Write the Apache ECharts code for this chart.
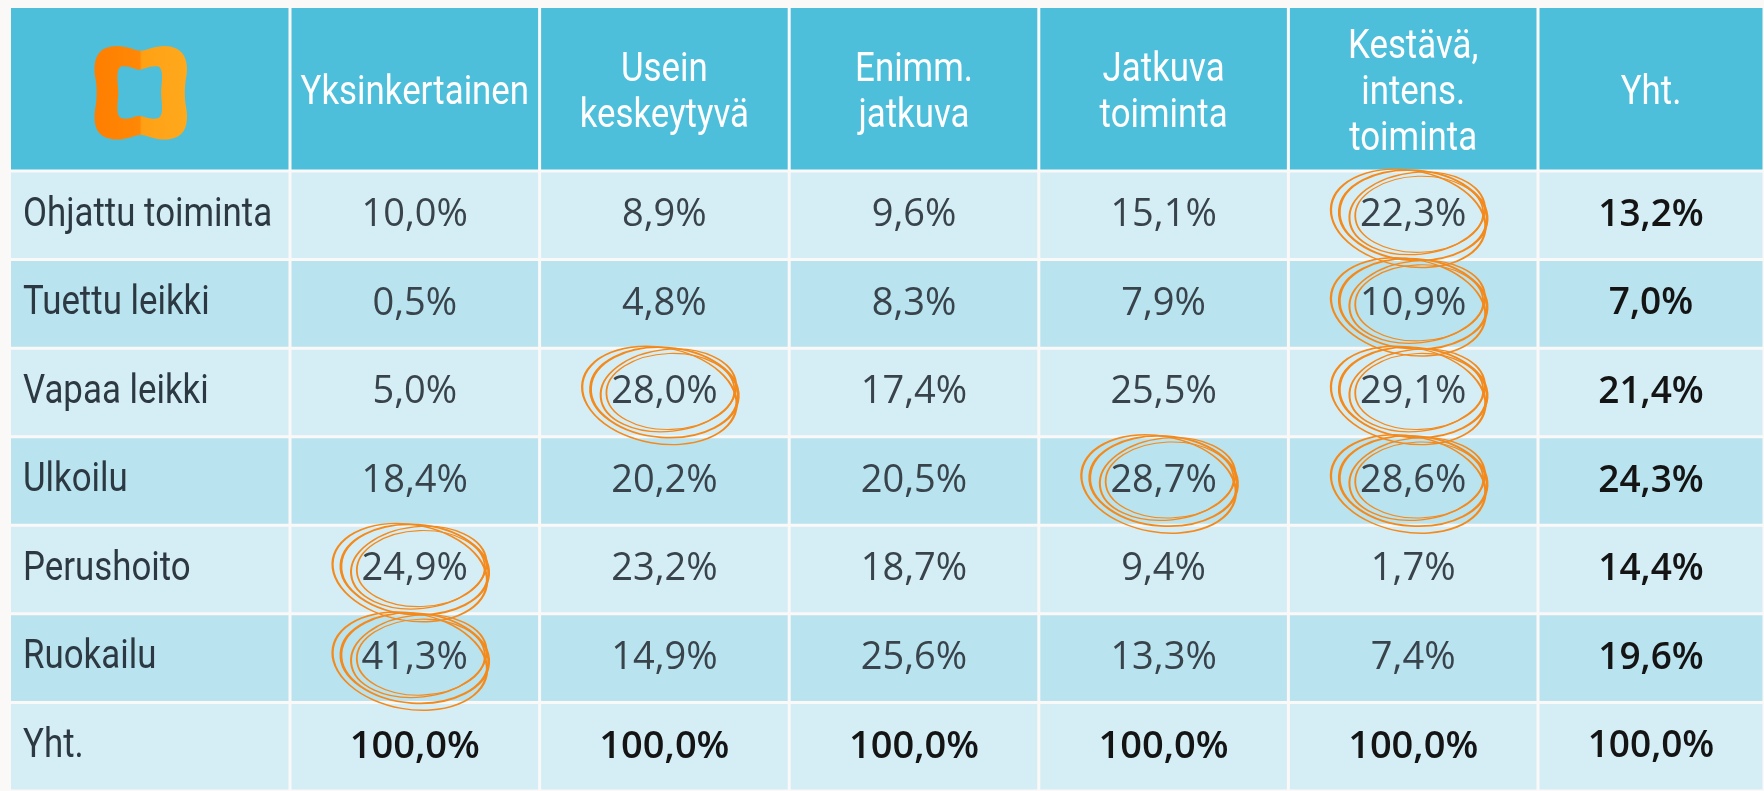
<!DOCTYPE html>
<html>
<head>
<meta charset="utf-8">
<script src="https://cdn.jsdelivr.net/npm/echarts@6/dist/echarts.min.js"></script>
<style>
html,body{margin:0;padding:0;background:#fbf8f8;}
#chart{width:1764px;height:791px;}
</style>
</head>
<body>
<div id="chart"></div>
<script>
// ---------- DATA ----------
const rowLabels = ['Ohjattu toiminta', 'Tuettu leikki', 'Vapaa leikki', 'Ulkoilu', 'Perushoito', 'Ruokailu', 'Yht.'];
const colLabels = ['Yksinkertainen', 'Usein\nkeskeytyvä', 'Enimm.\njatkuva', 'Jatkuva\ntoiminta', 'Kestävä,\nintens.\ntoiminta'];
const totalColLabel = 'Yht.';
const yksinkertainen  = [10.0, 0.5, 5.0, 18.4, 24.9, 41.3, 100.0];
const useinKeskeytyva = [8.9, 4.8, 28.0, 20.2, 23.2, 14.9, 100.0];
const enimmJatkuva    = [9.6, 8.3, 17.4, 20.5, 18.7, 25.6, 100.0];
const jatkuvaToiminta = [15.1, 7.9, 25.5, 28.7, 9.4, 13.3, 100.0];
const kestavaToiminta = [22.3, 10.9, 29.1, 28.6, 1.7, 7.4, 100.0];
const yhteensa        = [13.2, 7.0, 21.4, 24.3, 14.4, 19.6, 100.0];
// circled cells: [rowIndex, columnIndex]
const circledCells = [[0, 4], [1, 4], [2, 1], [2, 4], [3, 3], [3, 4], [4, 0], [5, 0]];

// ---------- STYLE ----------
const HEADER = '#4ebfdb';
const LIGHT = '#d5eef5';
const DARK = '#b9e3ee';
const COND = "Roboto,'Noto Sans',sans-serif";
const NUM = "'Open Sans','Noto Sans',sans-serif";
const COND_SCALE = 0.85;
const fmt = v => v.toFixed(1).replace('.', ',') + '%';
const rowFill = r => (r % 2 === 0 ? LIGHT : DARK);
const columns = [yksinkertainen, useinKeskeytyva, enimmJatkuva, jatkuvaToiminta, kestavaToiminta];
const lastRow = rowLabels.length - 1;

function cellSeries(gridIndex, cells) {
  return {
    type: 'custom', xAxisIndex: gridIndex, yAxisIndex: gridIndex, z: 1,
    data: cells.map(c => [c.x, c.y]),
    silent: true,
    renderItem: function (params, api) {
      const cell = cells[params.dataIndex];
      const c = api.coord([api.value(0), api.value(1)]);
      const s = api.size([1, 1]);
      const x0 = c[0] - s[0] / 2 + 1.5, y0 = c[1] - s[1] / 2 + 1.5;
      const children = [{ type: 'rect', shape: { x: x0, y: y0, width: s[0] - 3, height: s[1] - 3 }, style: { fill: cell.fill } }];
      if (cell.text) {
        children.push({
          type: 'text',
          x: cell.align === 'left' ? x0 + 12 : c[0],
          y: c[1] + (cell.dy || 0),
          scaleX: cell.scaleX || 1,
          style: {
            text: cell.text,
            x: 0, y: 0,
            align: cell.align || 'center',
            verticalAlign: 'middle',
            fontSize: cell.size, fontFamily: cell.family, fontWeight: cell.weight || 'normal',
            lineHeight: cell.lineHeight || cell.size * 1.2,
            fill: cell.color
          }
        });
      }
      return { type: 'group', children: children };
    }
  };
}

// header cells
const headLabelCells = [{ x: 0, y: 0, fill: HEADER }];
const headMidCells = colLabels.map((t, i) => ({ x: i, y: 0, fill: HEADER, text: t, size: 41, family: COND, color: '#ffffff', lineHeight: 46, scaleX: COND_SCALE, dy: 5 }));
const headLastCells = [{ x: 0, y: 0, fill: HEADER, text: totalColLabel, size: 41, family: COND, color: '#ffffff', scaleX: COND_SCALE, dy: 5 }];
// body cells
const bodyLabelCells = rowLabels.map((t, r) => ({ x: 0, y: r, fill: rowFill(r), text: t, size: 41, family: COND, color: '#2d3942', align: 'left', scaleX: COND_SCALE }));
const bodyMidCells = [];
columns.forEach((col, ci) => col.forEach((v, r) => bodyMidCells.push({
  x: ci, y: r, fill: rowFill(r), text: fmt(v), size: 38, family: NUM,
  color: r === lastRow ? '#141414' : '#39434b', weight: r === lastRow ? 600 : 'normal'
})));
const bodyLastCells = yhteensa.map((v, r) => ({ x: 0, y: r, fill: rowFill(r), text: fmt(v), size: 37, family: NUM, color: '#141414', weight: 600 }));

// ellipse scribbles
const strokes = [
  { size: [148, 90], offset: [0, 0], rotate: -4, width: 2.2 },
  { size: [136, 82], offset: [4, -2], rotate: 6, width: 1.6 },
  { size: [156, 96], offset: [-5, 3], rotate: -10, width: 1.8 },
  { size: [128, 76], offset: [6, -1], rotate: 2, width: 1.4 }
];
const scribbleData = [];
circledCells.forEach(([r, c]) => strokes.forEach(st => scribbleData.push({
  value: [c, r], symbolSize: st.size, symbolOffset: st.offset, symbolRotate: st.rotate,
  itemStyle: { color: 'rgba(0,0,0,0)', borderColor: '#f48a1c', borderWidth: st.width, opacity: 1 }
})));

const outerPath = 'path://M0 0M100 100M20 4C32 1 42 7 50 8C58 7 68 1 80 4C96 8 97 24 94 38C93 45 93 55 94 62C97 77 96 93 80 96C68 99 58 93 50 92C42 93 32 99 20 96C4 93 3 77 6 62C7 55 7 45 6 38C3 24 4 7 20 4Z';
const innerPath = 'path://M0 0M100 100M30 24C38 22 44 27 48 27C53 27 60 22 68 24C73 28 70 42 70 50C70 58 73 71 68 75C60 78 53 73 48 73C44 73 38 78 30 75C25 71 28 58 28 50C28 42 25 28 30 24Z';

// ---------- LAYOUT ----------
const colEdges = { labelLeft: 9.5, mid: 290, last: 1538, right: 1766 };
const headTop = 6.5, bodyTop = 171, bodyH = 626;
const grids = [
  { left: colEdges.labelLeft, top: headTop, width: colEdges.mid - colEdges.labelLeft, height: bodyTop - headTop },
  { left: colEdges.mid, top: headTop, width: colEdges.last - colEdges.mid, height: bodyTop - headTop },
  { left: colEdges.last, top: headTop, width: colEdges.right - colEdges.last, height: bodyTop - headTop },
  { left: colEdges.labelLeft, top: bodyTop, width: colEdges.mid - colEdges.labelLeft, height: bodyH },
  { left: colEdges.mid, top: bodyTop, width: colEdges.last - colEdges.mid, height: bodyH },
  { left: colEdges.last, top: bodyTop, width: colEdges.right - colEdges.last, height: bodyH }
];
const xCats = [[''], colLabels, [totalColLabel], [''], colLabels, [totalColLabel]];
const yCats = [[''], [''], [''], rowLabels, rowLabels, rowLabels];

const chart = echarts.init(document.getElementById('chart'), null, { renderer: 'canvas' });
chart.setOption({
  animation: false,
  backgroundColor: '#fbf8f8',
  grid: grids.map(g => Object.assign({ containLabel: false }, g)),
  xAxis: xCats.map((d, i) => ({ type: 'category', gridIndex: i, data: d, show: false, boundaryGap: true })),
  yAxis: yCats.map((d, i) => ({ type: 'category', gridIndex: i, data: d, show: false, inverse: true, boundaryGap: true })),
  series: [
    cellSeries(0, headLabelCells),
    cellSeries(1, headMidCells),
    cellSeries(2, headLastCells),
    cellSeries(3, bodyLabelCells),
    cellSeries(4, bodyMidCells),
    cellSeries(5, bodyLastCells),
    {
      type: 'scatter', xAxisIndex: 0, yAxisIndex: 0, z: 5, silent: true,
      symbolKeepAspect: false,
      data: [
        { value: [0, 0], symbol: outerPath, symbolSize: [102, 100], symbolOffset: [-9, 4],
          itemStyle: { opacity: 1, color: { type: 'linear', x: 0, y: 0, x2: 1, y2: 0, colorStops: [
            { offset: 0, color: '#ff7d00' }, { offset: 0.49, color: '#ff8806' },
            { offset: 0.51, color: '#ffa014' }, { offset: 1, color: '#ffaa1e' }] } } },
        { value: [0, 0], symbol: innerPath, symbolSize: [102, 100], symbolOffset: [-9, 4],
          itemStyle: { opacity: 1, color: HEADER } }
      ]
    },
    {
      type: 'scatter', xAxisIndex: 4, yAxisIndex: 4, z: 6, silent: true,
      symbol: 'circle',
      data: scribbleData
    }
  ]
});
</script>
</body>
</html>
